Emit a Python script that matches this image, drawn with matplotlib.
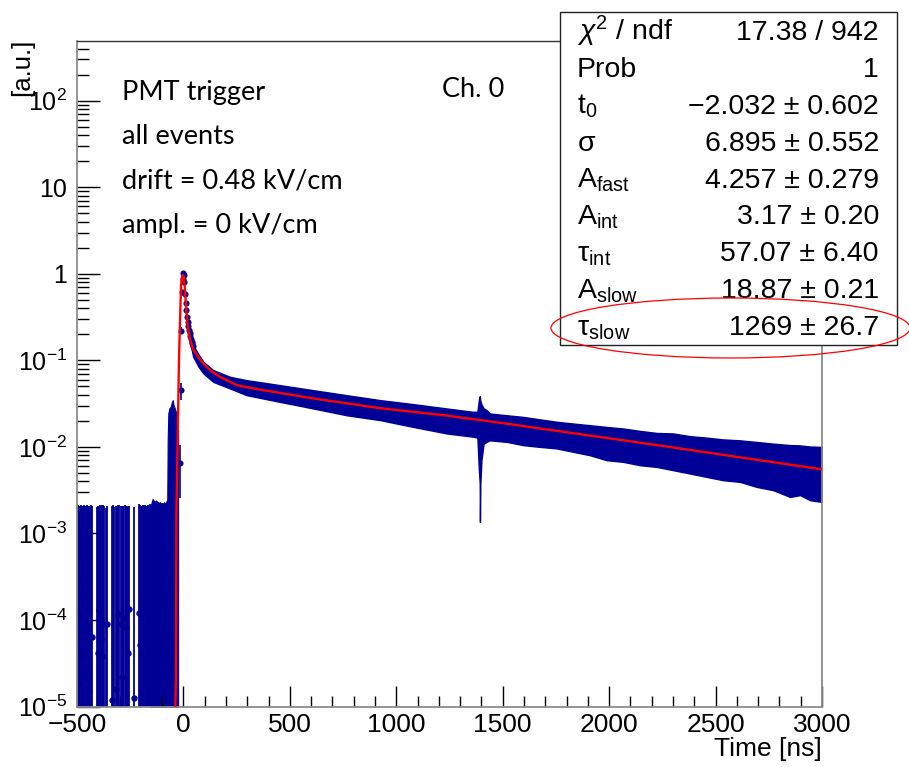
import numpy as np
import matplotlib
matplotlib.use("Agg")
import matplotlib.pyplot as plt
from matplotlib.patches import Rectangle, Ellipse
from matplotlib.ticker import FixedLocator, FixedFormatter, LogLocator, MultipleLocator, NullFormatter

plt.rcParams['font.family'] = ['Liberation Sans', 'DejaVu Sans']
plt.rcParams['mathtext.fontset'] = 'custom'
plt.rcParams['mathtext.rm'] = 'Liberation Sans'
plt.rcParams['mathtext.it'] = 'Liberation Sans:italic'
plt.rcParams['mathtext.bf'] = 'Liberation Sans:bold'

# ---------------- data ----------------
# sparse pre-trigger bins (time [ns], content, error)
pre_t = [-498, -494, -490, -486, -483, -478, -474, -470, -467, -462, -457, -451, -447, -443, -438, -434, -431,
         -404, -400, -395, -391, -387, -384, -379, -376, -371, -366, -360,
         -337, -330, -325, -318, -313, -306, -302, -295, -290, -285, -282, -274, -270, -263, -260, -254,
         -232, -207, -204, -200, -196, -192, -188, -184, -180, -176, -172, -168, -165, -160, -157, -153]
pre_val = [1.32e-4, 4e-6, 1.9e-5, 1.15e-4, 4.9e-5, 3.7e-5, 4e-6, 4.9e-5, 2.9e-5, 1.0e-4, 2.3e-5, 4e-6, 1.32e-4,
           1.5e-5, 4e-6, 4e-6, 6.4e-5,
           4e-6, 4.1e-5, 1.3e-4, 4e-6, 6.0e-5, 9.1e-5, 4e-6, 3.8e-5, 4e-6, 4e-6, 9.1e-5,
           1.2e-5, 4e-6, 4e-6, 1.6e-5, 4e-6, 1.17e-4, 4e-6, 9.1e-5, 2.2e-5, 4e-6, 1.06e-4, 4e-6, 8.4e-5, 4e-6,
           4.1e-5, 1.34e-4,
           1.24e-5, 1.19e-4, 5.2e-5, 4e-6, 4e-6, 4e-6, 4e-6, 4e-6, 4e-6, 4e-6, 4e-6, 4e-6, 4e-6, 4.4e-5, 1.0e-4, 1.3e-5]
pre_err = [2.0e-3, 2.1e-3, 2.05e-3, 1.95e-3, 2.1e-3, 2.0e-3, 2.05e-3, 2.0e-3, 2.1e-3, 1.95e-3, 2.05e-3, 2.1e-3, 1.95e-3,
           2.05e-3, 2.0e-3, 2.1e-3, 2.0e-3,
           2.0e-3, 2.05e-3, 1.95e-3, 2.1e-3, 2.0e-3, 2.05e-3, 2.0e-3, 2.1e-3, 2.05e-3, 1.95e-3, 2.0e-3,
           2.05e-3, 2.1e-3, 2.0e-3, 2.05e-3, 1.95e-3, 2.0e-3, 2.1e-3, 2.0e-3, 2.05e-3, 2.0e-3, 1.95e-3, 2.1e-3,
           2.0e-3, 2.05e-3, 2.0e-3, 1.95e-3,
           2.0e-3, 2.05e-3, 2.1e-3, 2.0e-3, 2.05e-3, 2.1e-3, 2.0e-3, 2.05e-3, 2.1e-3, 2.05e-3, 2.0e-3, 2.1e-3,
           2.05e-3, 2.0e-3, 2.1e-3, 2.05e-3]

# densely filled bins just before the trigger (upper edge of error bars)
dense_t = [-153, -149, -145, -140, -135, -130, -125, -120, -115, -110, -105, -100, -95, -90, -85, -80, -78]
dense_hi = [2.1e-3, 2.3e-3, 2.5e-3, 2.4e-3, 2.3e-3, 2.4e-3, 2.35e-3, 2.3e-3, 2.25e-3, 2.3e-3, 2.2e-3,
            2.25e-3, 2.2e-3, 2.3e-3, 2.15e-3, 2.3e-3, 2.4e-3]

# pre-pulse bump
bump_t = [-76, -74, -71, -66, -60, -54, -50, -47, -41, -35, -29, -25]
bump_hi = [2.4e-3, 0.012, 0.0245, 0.028, 0.029, 0.033, 0.0347, 0.031, 0.028, 0.0252, 0.0204, 0.015]

# bins around the prompt peak
pk_t = [-16, -13, -10, -7, -4, -1, 2, 5, 8, 11, 14, 17, 20, 23, 26, 29, 32, 35, 38, 41, 44]
pk_v = [0.0066, 0.045, 0.22, 0.62, 0.86, 1.01, 0.97, 0.80, 0.59, 0.46, 0.38, 0.32, 0.28, 0.25, 0.225,
        0.205, 0.19, 0.175, 0.165, 0.157, 0.148]
pk_err = [0.004, 0.01, 0.02, 0.03, 0.03, 0.03, 0.03, 0.03, 0.025, 0.02, 0.02, 0.02, 0.02, 0.02, 0.02,
          0.02, 0.018, 0.017, 0.016, 0.016, 0.015]

# envelope of the error bars in the slow tail
band_t = [18, 30, 46, 70, 94, 140, 219, 297, 454, 610, 767, 924, 1080, 1237, 1362, 1381, 1388, 1392, 1393,
          1395, 1400, 1410, 1425, 1440, 1519, 1597, 1675, 1754, 1832, 1910, 1988, 2067, 2145, 2223, 2301,
          2380, 2458, 2536, 2615, 2693, 2771, 2850, 2897, 2944, 3000]
band_hi = [0.31, 0.205, 0.150, 0.118, 0.0961, 0.0771, 0.0645, 0.0590, 0.0517, 0.0452, 0.0396, 0.0347,
           0.0312, 0.0278, 0.0254, 0.0255, 0.0347, 0.0385, 0.037, 0.034, 0.031, 0.028, 0.0265, 0.0243,
           0.0232, 0.0222, 0.0208, 0.0195, 0.0186, 0.0178, 0.0170, 0.0163, 0.0153, 0.0145, 0.0143, 0.0133,
           0.0128, 0.0122, 0.0119, 0.0114, 0.0109, 0.0105, 0.0104, 0.0101, 0.0100]
band_lo = [0.25, 0.165, 0.110, 0.085, 0.0706, 0.0564, 0.0473, 0.0396, 0.0331, 0.0278, 0.0232, 0.0204,
           0.0170, 0.0143, 0.0131, 0.0128, 0.0054, 0.0038, 0.00136, 0.0038, 0.0070, 0.0108, 0.0115, 0.0119,
           0.01143, 0.01047, 0.0100, 0.0096, 0.00876, 0.00801, 0.00702, 0.00671, 0.00614, 0.00587, 0.00538,
           0.00492, 0.0045, 0.00412, 0.00394, 0.00345, 0.00316, 0.00264, 0.00277, 0.00242, 0.00231]

# fitted function
fit_t = [-42, -38, -35, -33, -28, -21, -15, -11, -7, -3, 0, 3, 6, 10, 15, 20, 30, 45, 62, 80, 109, 140,
         172, 250, 375, 610, 924, 1237, 1487, 2223, 3000]
fit_v = [1e-6, 1e-5, 2.1e-5, 1.6e-3, 9e-3, 0.1, 0.35, 0.75, 0.92, 0.97, 0.95, 0.88, 0.72, 0.50, 0.33,
         0.25, 0.18, 0.135, 0.117, 0.100, 0.084, 0.072, 0.0645, 0.0517, 0.0452, 0.0363, 0.0280, 0.0230,
         0.0190, 0.0105, 0.0055]

stat_names = [r'$\chi^{2}$ / ndf', 'Prob', r'$\mathrm{t}_{0}$', r'$\mathrm{\sigma}$',
              r'$\mathrm{A}_{\mathrm{fast}}$', r'$\mathrm{A}_{\mathrm{int}}$', r'$\mathrm{\tau}_{\mathrm{int}}$',
              r'$\mathrm{A}_{\mathrm{slow}}$', r'$\mathrm{\tau}_{\mathrm{slow}}$']
stat_values = ['17.38 / 942', '1', '\u22122.032 \u00b1 0.602', '6.895 \u00b1 0.552', '4.257 \u00b1 0.279',
               '3.17 \u00b1 0.20', '57.07 \u00b1 6.40', '18.87 \u00b1 0.21', '1269 \u00b1 26.7']

info_lines = ['PMT trigger', 'all events', 'drift = 0.48 kV/cm', 'ampl. = 0 kV/cm']
channel_label = 'Ch. 0'

x_ticks = [-500, 0, 500, 1000, 1500, 2000, 2500, 3000]
x_ticklabels = ['\u2212500', '0', '500', '1000', '1500', '2000', '2500', '3000']
y_ticks = [1e-5, 1e-4, 1e-3, 1e-2, 1e-1, 1, 10, 100]
y_ticklabels = [r'$10^{-5}$', r'$10^{-4}$', r'$10^{-3}$', r'$10^{-2}$', r'$10^{-1}$', '1', '10', r'$10^{2}$']

# ---------------- drawing ----------------
W, H = 909, 767
blue = '#000096'


def fx(px):
    return px / W


def fy(py):
    return 1 - py / H


fig = plt.figure(figsize=(W / 100, H / 100), dpi=100)
ax = fig.add_axes([fx(77), fy(706.5), fx(822) - fx(77), fy(40.7) - fy(706.5)])
ax.set_yscale('log')
ax.set_xlim(-500, 3000)
ax.set_ylim(1e-5, 494)

floor = 1e-7
pre_val_a = np.array(pre_val)
pre_err_a = np.array(pre_err)
ax.vlines(pre_t, np.clip(pre_val_a - pre_err_a, floor, None), pre_val_a + pre_err_a, color=blue, lw=1.3)
ax.plot(pre_t, pre_val, 'o', color=blue, ms=4.6, mew=0)

ax.fill_between(dense_t, floor, dense_hi, color=blue, lw=0.8)
ax.fill_between(bump_t, floor, bump_hi, color=blue, lw=0.8)
ax.fill_between(band_t, band_lo, band_hi, color=blue, lw=1.0, edgecolor=blue)
ax.errorbar(pk_t, pk_v, yerr=pk_err, fmt='o', color=blue, ms=4.4, mew=0, elinewidth=1.2, capsize=0)

ax.plot(fit_t, fit_v, color='#ff0000', lw=1.7, zorder=4)

# axes styling
for side in ['left', 'bottom', 'right']:
    ax.spines[side].set_color('#8c8c8c')
    ax.spines[side].set_linewidth(1.3)
ax.spines['top'].set_color('#333333')
ax.spines['top'].set_linewidth(1.0)

ax.xaxis.set_major_locator(FixedLocator(x_ticks))
ax.xaxis.set_major_formatter(FixedFormatter(x_ticklabels))
ax.xaxis.set_minor_locator(MultipleLocator(100))
ax.yaxis.set_major_locator(FixedLocator(y_ticks))
ax.yaxis.set_major_formatter(FixedFormatter(y_ticklabels))
ax.yaxis.set_minor_locator(LogLocator(base=10, subs=np.arange(2, 10), numticks=20))
ax.yaxis.set_minor_formatter(NullFormatter())

ax.tick_params(which='both', direction='in', top=False, right=False, color='black', width=1.0)
ax.tick_params(axis='x', which='major', length=14.9, pad=5, labelsize=19)
ax.tick_params(axis='x', which='minor', length=7.7)
ax.tick_params(axis='y', which='major', length=16.8, pad=7, labelsize=18)
ax.tick_params(axis='y', which='minor', length=8.9)

fig.text(fx(822), fy(756), 'Time [ns]', ha='right', va='baseline', fontsize=19)
fig.text(fx(22), fy(39), '[a.u.]', ha='center', va='top', rotation=90, fontsize=18.5)

# annotations
for i, line in enumerate(info_lines):
    fig.text(fx(121.7), fy(100 + 44.4 * i), line, ha='left', va='baseline', fontsize=19.5,
             family=['Lato', 'DejaVu Sans'])
fig.text(fx(441.7), fy(96.7), channel_label, ha='left', va='baseline', fontsize=19.5,
         family=['Lato', 'DejaVu Sans'])

# fit statistics box
fig.add_artist(Rectangle((fx(560), fy(345)), fx(897) - fx(560), fy(12) - fy(345), transform=fig.transFigure,
                         facecolor='white', edgecolor='#222222', lw=1.0, zorder=5))
for i, (name, val) in enumerate(zip(stat_names, stat_values)):
    yb = fy(40 + 36.9 * i)
    fig.text(fx(577), yb, name, ha='left', va='baseline', fontsize=20.5, zorder=6)
    fig.text(fx(879), yb, val, ha='right', va='baseline', fontsize=20.5, zorder=6)

fig.add_artist(Ellipse((fx(730.5), fy(328)), fx(359), 60 / H, transform=fig.transFigure, fill=False,
                       edgecolor='#ff0000', lw=0.9, zorder=7))

fig.savefig('out.png', dpi=100)
